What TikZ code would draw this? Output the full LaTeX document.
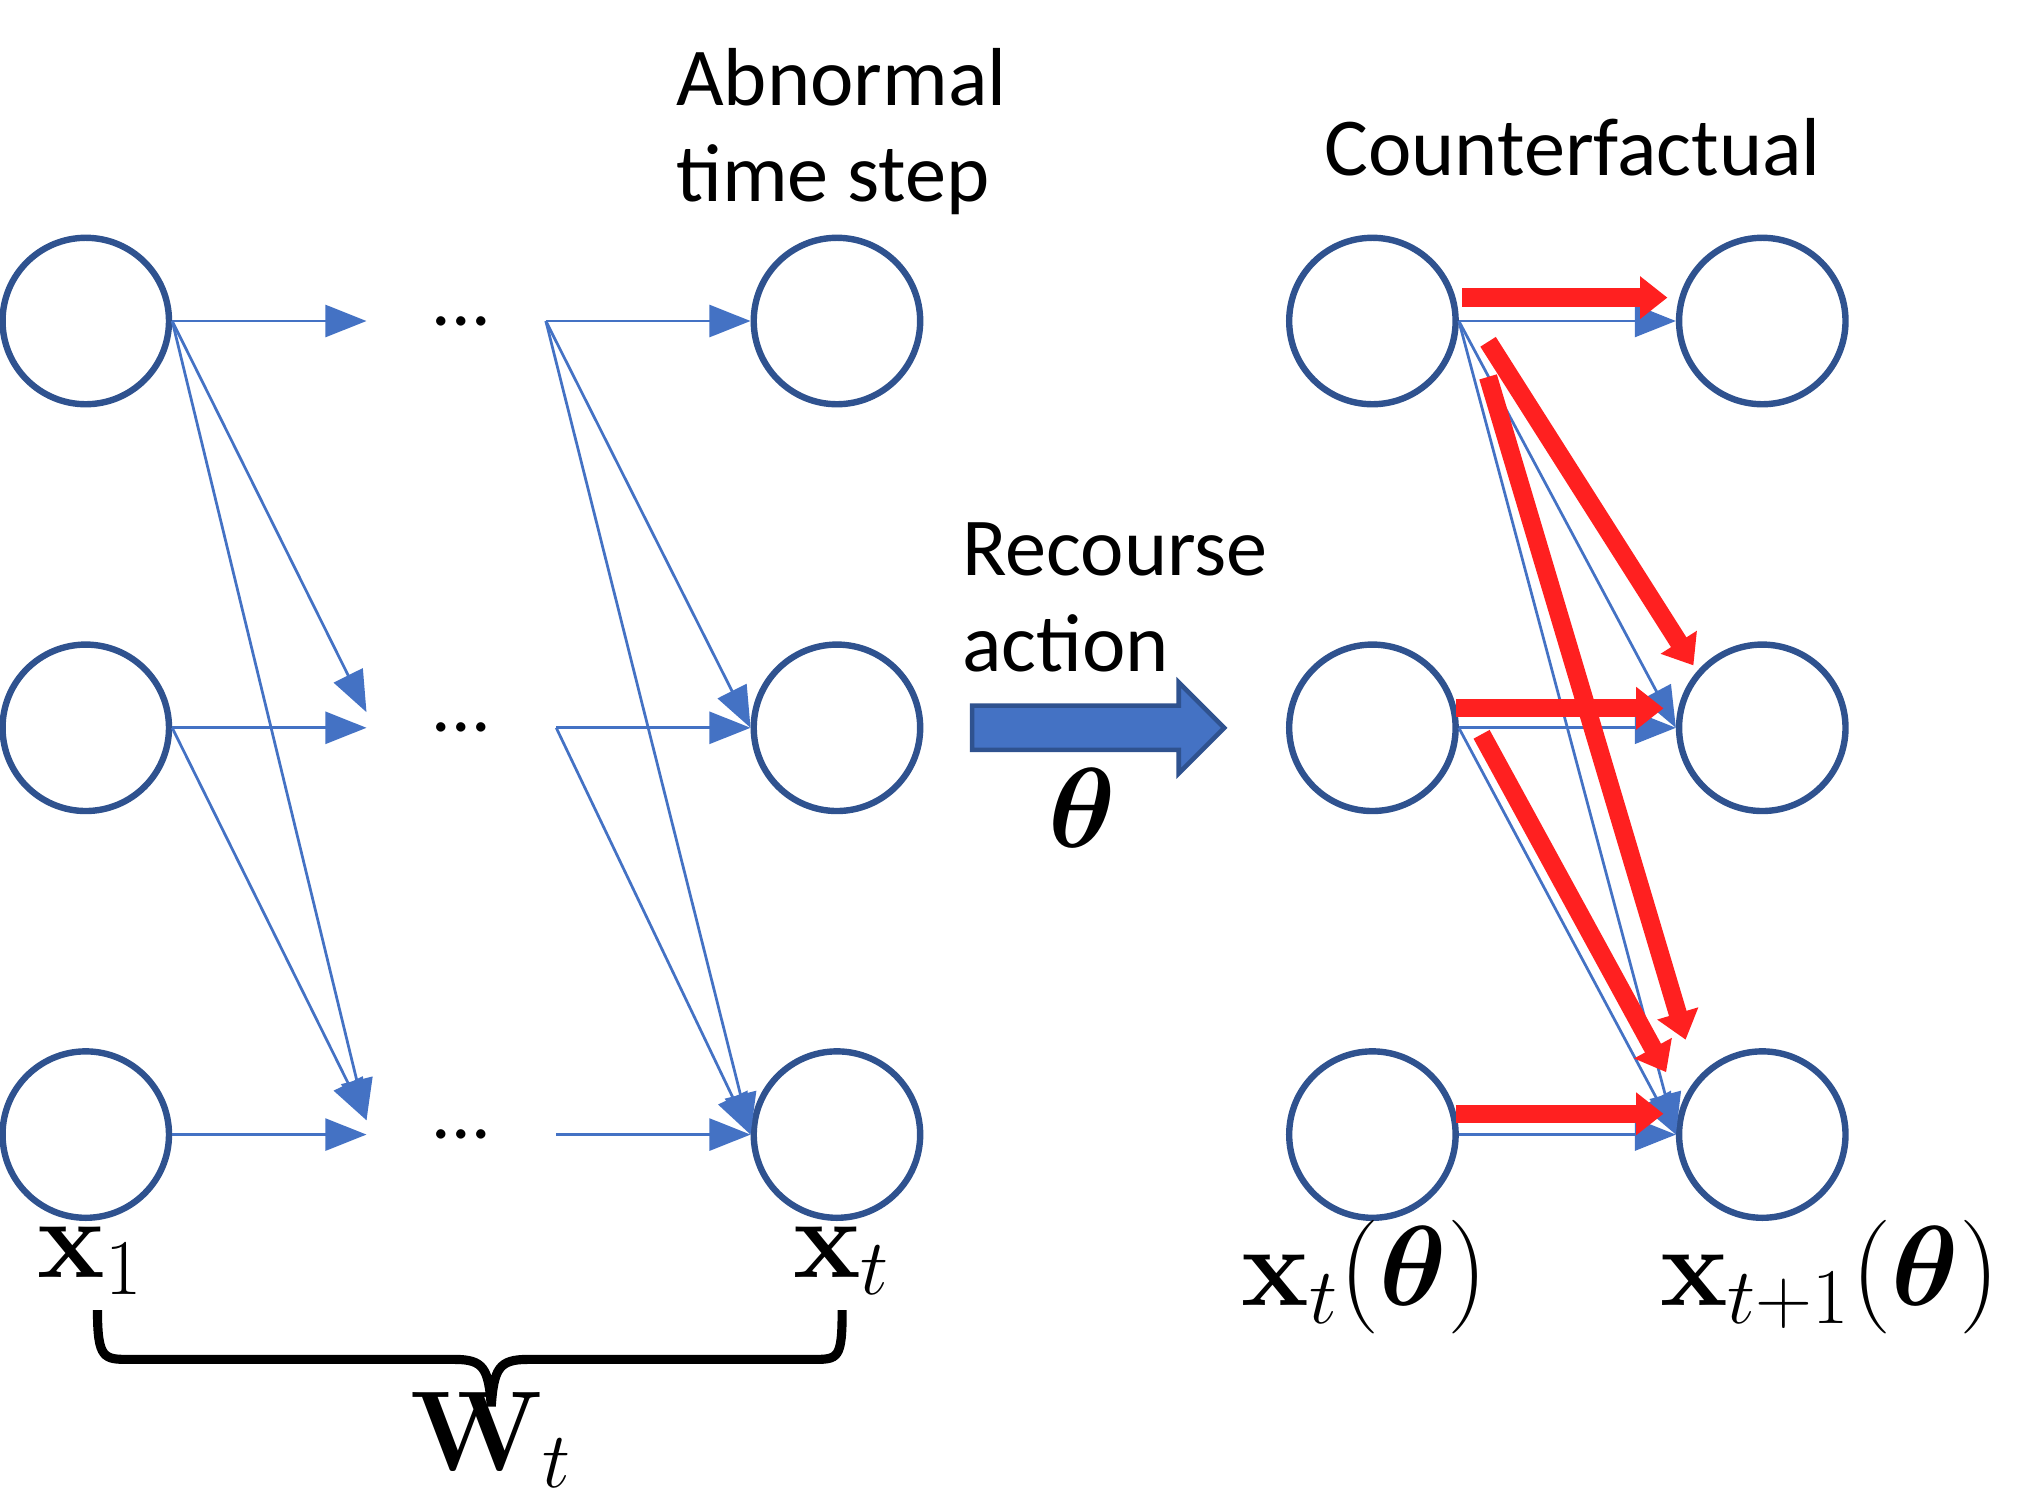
\documentclass[tikz,border=0pt]{standalone}
\usepackage{amsmath,bm}
\usepackage[no-math]{fontspec}
\setmainfont{Carlito}
\usetikzlibrary{arrows.meta}
\definecolor{nb}{HTML}{2F528F}
\definecolor{lb}{HTML}{4472C4}
\definecolor{rr}{HTML}{FF2020}
\begin{document}
\begin{tikzpicture}[x=0.01cm,y=-0.01cm,
 neur/.style={circle,draw=nb,line width=1.4pt,minimum size=1.28cm,inner sep=0pt},
 thin/.style={draw=lb,line width=0.6pt,-{Triangle[length=9pt,width=7pt]}},
 red/.style={draw=rr,line width=4pt,-{Triangle[length=6pt,width=9pt]}},
 lab/.style={font=\fontsize{18}{21}\selectfont},
 mlab/.style={font=\fontsize{23}{27}\selectfont}]
\useasboundingbox (0,0) rectangle (1552,1148);
\foreach \r/\y in {1/247,2/560,3/873}{
 \node[neur] (a\r) at (66,\y) {};
 \node[neur] (b\r) at (644,\y) {};
 \node[neur] (c\r) at (1056,\y) {};
 \node[neur] (d\r) at (1356,\y) {};
 \node[font=\fontsize{17}{20}\selectfont] (m\r) at (355,\y) {...};
 \coordinate (p\r) at (282,\y);
}
\coordinate (q1) at (420,247); \coordinate (q2) at (428,560); \coordinate (q3) at (428,873);
\draw[thin] (a1.east) -- (p1);
\draw[thin] (a1.east) -- (282,548);
\draw[thin] (a1.east) -- (282,862);
\draw[thin] (a2.east) -- (p2);
\draw[thin] (a2.east) -- (282,862);
\draw[thin] (a3.east) -- (p3);
\draw[thin] (q1) -- (b1.west);
\draw[thin] (q1) -- (b2.west);
\draw[thin] (q1) -- (b3.west);
\draw[thin] (q2) -- (b2.west);
\draw[thin] (q2) -- (b3.west);
\draw[thin] (q3) -- (b3.west);
\draw[thin] (c1.east) -- (d1.west);
\draw[thin] (c1.east) -- (d2.west);
\draw[thin] (c1.east) -- (d3.west);
\draw[thin] (c2.east) -- (d2.west);
\draw[thin] (c2.east) -- (d3.west);
\draw[thin] (c3.east) -- (d3.west);
\coordinate (r1s) at (1125,229); \coordinate (r1e) at (1283,229);
\coordinate (r2s) at (1145,263); \coordinate (r2e) at (1303,512);
\coordinate (r3s) at (1145,290); \coordinate (r3e) at (1297,800);
\coordinate (r4s) at (1120,545); \coordinate (r4e) at (1280,545);
\coordinate (r5s) at (1140,565); \coordinate (r5e) at (1282,825);
\coordinate (r6s) at (1120,857); \coordinate (r6e) at (1280,857);
\foreach \i in {1,...,6}{\draw[red] (r\i s) -- (r\i e);}
\draw[fill=lb,draw=nb,line width=1pt] (748,543) -- (907,543) -- (907,525) -- (942,560) -- (907,595) -- (907,577) -- (748,577) -- cycle;
\node[lab,align=left,anchor=north west] (t1) at (508,25) {Abnormal\\time step};
\node[lab] (t2) at (1210,113) {Counterfactual};
\node[lab,align=left,anchor=north west] (t3) at (728,390) {Recourse\\action};
\node[mlab] (th) at (833,622) {$\bm{\theta}$};
\node[mlab] (l1) at (70,970) {$\mathbf{x}_1$};
\node[mlab] (l2) at (648,970) {$\mathbf{x}_t$};
\node[mlab] (l3) at (1050,983) {$\mathbf{x}_t(\bm{\theta})$};
\node[mlab] (l4) at (1408,983) {$\mathbf{x}_{t+1}(\bm{\theta})$};
\node[mlab] (l5) at (378,1108) {$\mathbf{W}_t$};
\draw[line width=2pt] (75,1008) .. controls (75,1046) and (80,1046) .. (100,1046) -- (350,1046) .. controls (372,1046) and (376,1053) .. (378,1082)
 .. controls (380,1053) and (384,1046) .. (406,1046) -- (625,1046) .. controls (645,1046) and (648,1046) .. (648,1008);
\end{tikzpicture}
\end{document}
